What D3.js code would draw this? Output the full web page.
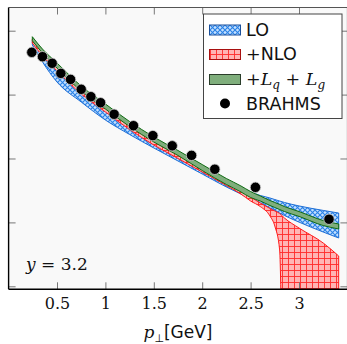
<!DOCTYPE html>
<html>
<head>
<meta charset="utf-8">
<script src="https://cdn.jsdelivr.net/npm/d3@7"></script>
<style>
  html, body { margin: 0; padding: 0; background: #fff; }
  svg { display: block; }
</style>
</head>
<body>
<svg id="chart" width="347" height="344"></svg>
<script>
// ---------- data ----------
const ptGrid   = [0.245,0.35,0.5,0.75,1.0,1.25,1.5,1.75,2.0,2.25,2.4,2.5,2.6,2.7,2.75,2.8,2.85,3.0,3.25,3.41];
const loUpper  = [0.690,0.432,0.251,0.1138,0.0595,0.03225,0.01878,0.01155,0.00710,0.00444,0.00345,0.00299,0.00264,0.00241,0.00228,0.00216,0.00205,0.00181,0.00154,0.00140];
const loLower  = [0.597,0.324,0.1574,0.0766,0.0400,0.02374,0.01460,0.00914,0.00572,0.00358,0.00278,0.00237,0.00201,0.00168,0.00154,0.00140,0.00128,0.00101,0.000707,0.000570];
const nloUpper = [0.741,0.464,0.270,0.118,0.0617,0.0328,0.01878,0.01155,0.00697,0.00429,0.00321,0.00250,0.00201,0.00165,0.00151,0.00138,0.00117,0.000817,0.000476,0.000298];
const nloLower = [0.642,0.402,0.234,0.1022,0.0534,0.0284,0.01626,0.0100,0.00615,0.00378,0.00278,0.00216,0.00177,0.00126,0.000878,0.000370,1e-7,1e-7,1e-7,1e-7];
const lqUpper  = [0.805,0.516,0.312,0.136,0.0713,0.0379,0.0217,0.01334,0.00805,0.00486,0.00372,0.00304,0.00259,0.00220,0.00205,0.00191,0.00177,0.00148,0.00107,0.000944];
const lqLower  = [0.697,0.447,0.261,0.1136,0.0595,0.0316,0.0181,0.01114,0.00649,0.00392,0.00300,0.00245,0.00216,0.00184,0.00171,0.00159,0.00148,0.00124,0.000893,0.000788];

const brahmsPt = [0.24,0.35,0.45,0.54,0.64,0.75,0.85,0.95,1.09,1.29,1.49,1.69,1.89,2.13,2.55,3.31];
const brahmsY  = [0.459,0.392,0.309,0.215,0.173,0.121,0.0927,0.0746,0.0492,0.0326,0.0228,0.0158,0.0112,0.00678,0.00354,0.00112];

const xTicks = [0.5,1,1.5,2,2.5,3];
const xTickLabels = ["0.5","1","1.5","2","2.5","3"];
const yTicks = [1,0.1,0.01,0.001,0.0001];
const legendLabels = ["LO","+NLO","+Lq+Lg","BRAHMS"];

// ---------- scales ----------
const svg = d3.select("#chart");
const x = d3.scaleLinear().domain([0,3.5]).range([8.6,347.4]);
const y = d3.scaleLog().domain([Math.pow(10,-4.047), Math.pow(10,0.363)]).range([289.3,7.5]);
const L = x.range()[0], R = x.range()[1], T = y.range()[1], B = y.range()[0];

const defs = svg.append("defs");
defs.append("clipPath").attr("id","clip").append("rect")
  .attr("x",L).attr("y",T).attr("width",R-L).attr("height",B-T);

// LO pattern: blue crosshatch
const pLO = defs.append("pattern").attr("id","patLO").attr("patternUnits","userSpaceOnUse")
  .attr("width",5).attr("height",5);
pLO.append("rect").attr("width",5).attr("height",5).attr("fill","#c4e0ff");
pLO.append("path").attr("d","M0,0L5,5M5,0L0,5").attr("stroke","#2a82e6").attr("stroke-width",1.1);

// NLO pattern: red grid
const pN = defs.append("pattern").attr("id","patNLO").attr("patternUnits","userSpaceOnUse")
  .attr("width",6).attr("height",6);
pN.append("rect").attr("width",6).attr("height",6).attr("fill","#ffb4b4");
pN.append("path").attr("d","M0,0.5H6M0.5,0V6").attr("stroke","#ff2a2a").attr("stroke-width",0.9);

// background
svg.append("rect").attr("x",L).attr("y",T).attr("width",R-L).attr("height",B-T).attr("fill","#f9f9f9");

const rows = (lo, hi) => ptGrid.map((p,i)=>({p, lo: lo[i], hi: hi[i]}));
const area = d3.area().x(d=>x(d.p)).y0(d=>y(d.lo)).y1(d=>y(d.hi)).curve(d3.curveMonotoneX);

const g = svg.append("g").attr("clip-path","url(#clip)");
g.append("path").datum(rows(loLower,loUpper)).attr("d",area)
  .attr("fill","url(#patLO)").attr("stroke","#1f6fd6").attr("stroke-width",1);
g.append("path").datum(rows(nloLower,nloUpper)).attr("d",area)
  .attr("fill","url(#patNLO)").attr("stroke","#ff1a1a").attr("stroke-width",1);
g.append("path").datum(rows(lqLower,lqUpper)).attr("d",area)
  .attr("fill","#7fae7c").attr("stroke","#0f6a12").attr("stroke-width",1);

g.selectAll("circle.data").data(brahmsPt.map((p,i)=>({p, v: brahmsY[i]})))
  .join("circle").attr("class","data")
  .attr("cx",d=>x(d.p)).attr("cy",d=>y(d.v)).attr("r",5.2)
  .attr("fill","#000").attr("stroke","#cfcfcf").attr("stroke-width",0.8);

// ---------- axes / frame ----------
const axisBottom = d3.axisBottom(x).tickValues(xTicks).tickSize(-7).tickPadding(10)
  .tickFormat((d,i)=>xTickLabels[i]);
const axB = svg.append("g").attr("transform",`translate(0,${B})`).call(axisBottom);
axB.select(".domain").remove();
axB.selectAll(".tick line").attr("stroke","#777");
axB.selectAll(".tick text").attr("font-family","'DejaVu Serif', serif").attr("font-size",16)
  .attr("fill","#111").attr("dy","0.62em");

const axT = svg.append("g").attr("transform",`translate(0,${T})`)
  .call(d3.axisTop(x).tickValues(xTicks).tickSize(-7).tickFormat(""));
axT.select(".domain").remove();
axT.selectAll(".tick line").attr("stroke","#777");

const axL = svg.append("g").attr("transform",`translate(${L},0)`)
  .call(d3.axisLeft(y).tickValues(yTicks).tickSize(-7).tickFormat(""));
axL.select(".domain").remove();
axL.selectAll(".tick line").attr("stroke","#777");

const axR = svg.append("g").attr("transform",`translate(${R},0)`)
  .call(d3.axisRight(y).tickValues(yTicks).tickSize(-7).tickFormat(""));
axR.select(".domain").remove();
axR.selectAll(".tick line").attr("stroke","#777");

svg.append("line").attr("x1",L).attr("x2",R).attr("y1",T).attr("y2",T).attr("stroke","#555").attr("stroke-width",1);
svg.append("line").attr("x1",R).attr("x2",R).attr("y1",T).attr("y2",B).attr("stroke","#555").attr("stroke-width",1);
svg.append("line").attr("x1",L).attr("x2",L).attr("y1",T).attr("y2",B).attr("stroke","#000").attr("stroke-width",1.4);
svg.append("line").attr("x1",L).attr("x2",R).attr("y1",B).attr("y2",B).attr("stroke","#000").attr("stroke-width",1.4);

// x-axis label
const xl = svg.append("text").attr("x",(L+R)/2).attr("y",338).attr("text-anchor","middle")
  .attr("fill","#111").attr("font-size",17);
xl.append("tspan").attr("font-family","'DejaVu Serif', serif").attr("font-style","italic").text("p");
xl.append("tspan").attr("font-family","'DejaVu Sans', sans-serif").attr("font-size",11).attr("dy",4).text("⊥");
xl.append("tspan").attr("font-family","'DejaVu Sans', sans-serif").attr("dy",-4).text("[GeV]");

// annotation
const ann = svg.append("text").attr("x",26).attr("y",270).attr("fill","#111")
  .attr("font-family","'DejaVu Serif', serif").attr("font-size",17);
ann.append("tspan").attr("font-style","italic").text("y");
ann.append("tspan").text(" = 3.2");

// ---------- legend ----------
const lg = svg.append("g");
lg.append("rect").attr("x",203.5).attr("y",14).attr("width",138.5).attr("height",104.5)
  .attr("fill","#fff").attr("stroke","#444").attr("stroke-width",1);
const sw = {x:209.5, w:31, h:10};
lg.append("rect").attr("x",sw.x).attr("y",25).attr("width",sw.w).attr("height",sw.h)
  .attr("fill","url(#patLO)").attr("stroke","#1a4f9a").attr("stroke-width",1);
lg.append("rect").attr("x",sw.x).attr("y",49.5).attr("width",sw.w).attr("height",sw.h)
  .attr("fill","url(#patNLO)").attr("stroke","#a81010").attr("stroke-width",1);
lg.append("rect").attr("x",sw.x).attr("y",74.5).attr("width",sw.w).attr("height",sw.h)
  .attr("fill","#7fae7c").attr("stroke","#2a3d2a").attr("stroke-width",1);
lg.append("circle").attr("cx",225).attr("cy",103.5).attr("r",5).attr("fill","#000");

const tx = 246;
lg.append("text").attr("x",tx).attr("y",36).attr("font-family","'DejaVu Sans', sans-serif")
  .attr("font-size",17.5).attr("fill","#111").text(legendLabels[0]);
const t2 = lg.append("text").attr("x",tx).attr("y",60).attr("font-size",17.5).attr("fill","#111");
t2.append("tspan").attr("font-family","'DejaVu Serif', serif").text("+");
t2.append("tspan").attr("font-family","'DejaVu Sans', sans-serif").text("NLO");
const t3 = lg.append("text").attr("x",tx).attr("y",84.5).attr("font-size",17.5).attr("fill","#111")
  .attr("font-family","'DejaVu Serif', serif");
t3.append("tspan").text("+");
t3.append("tspan").attr("font-style","italic").text("L");
t3.append("tspan").attr("font-style","italic").attr("font-size",12).attr("dy",4).text("q");
t3.append("tspan").attr("dy",-4).text(" + ");
t3.append("tspan").attr("font-style","italic").text("L");
t3.append("tspan").attr("font-style","italic").attr("font-size",12).attr("dy",4).text("g");
lg.append("text").attr("x",tx).attr("y",110).attr("font-family","'DejaVu Sans', sans-serif")
  .attr("font-size",17.5).attr("fill","#111").text(legendLabels[3]);
</script>
</body>
</html>
